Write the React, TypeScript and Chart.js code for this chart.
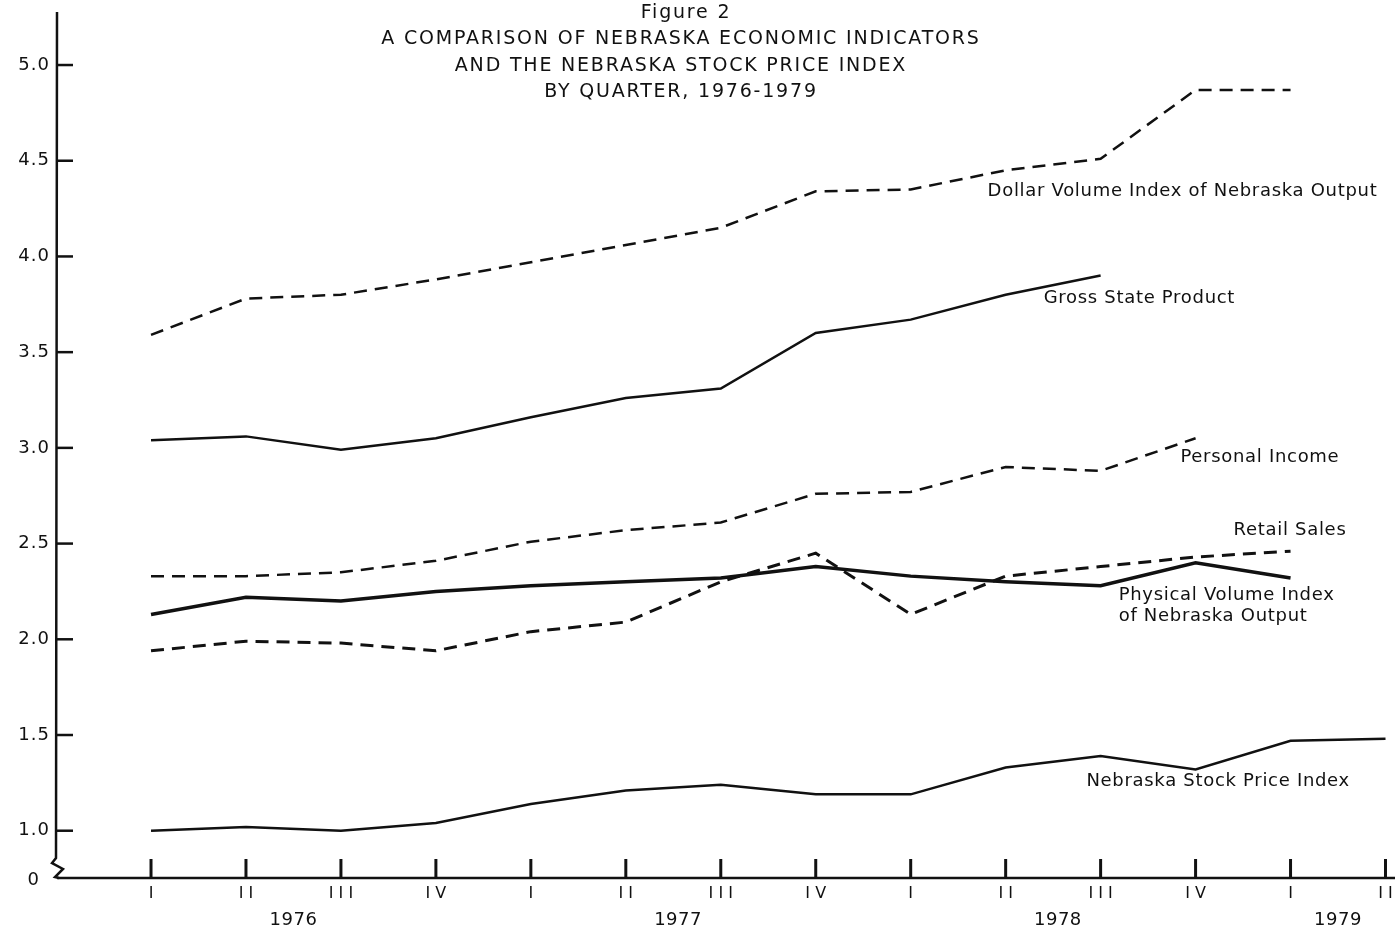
import { useEffect, useRef } from "react";
import { Chart, registerables } from "chart.js";
Chart.register(...registerables);

const quarterLabels = ["I", "II", "III", "IV", "I", "II", "III", "IV", "I", "II", "III", "IV", "I", "II"];
const yearLabels = ["1976", "1977", "1978", "1979"];
const yTickValues = [1.0, 1.5, 2.0, 2.5, 3.0, 3.5, 4.0, 4.5, 5.0];

const dollarVolumeIndex = [3.59, 3.78, 3.80, 3.88, 3.97, 4.06, 4.15, 4.34, 4.35, 4.45, 4.51, 4.87, 4.87, null];
const grossStateProduct = [3.04, 3.06, 2.99, 3.05, 3.16, 3.26, 3.31, 3.60, 3.67, 3.80, 3.90, null, null, null];
const personalIncome = [2.33, 2.33, 2.35, 2.41, 2.51, 2.57, 2.61, 2.76, 2.77, 2.90, 2.88, 3.05, null, null];
const retailSales = [1.94, 1.99, 1.98, 1.94, 2.04, 2.09, 2.30, 2.45, 2.13, 2.33, 2.38, 2.43, 2.46, null];
const physicalVolumeIndex = [2.13, 2.22, 2.20, 2.25, 2.28, 2.30, 2.32, 2.38, 2.33, 2.30, 2.28, 2.40, 2.32, null];
const stockPriceIndex = [1.00, 1.02, 1.00, 1.04, 1.14, 1.21, 1.24, 1.19, 1.19, 1.33, 1.39, 1.32, 1.47, 1.48];

const titleLines = [
  "Figure 2",
  "A COMPARISON OF NEBRASKA ECONOMIC INDICATORS",
  "AND THE NEBRASKA STOCK PRICE INDEX",
  "BY QUARTER, 1976-1979",
];

const seriesLabels = [
  { text: "Dollar Volume Index of Nebraska Output", x: 8.81, y: 4.34 },
  { text: "Gross State Product", x: 9.4, y: 3.78 },
  { text: "Personal Income", x: 10.84, y: 2.95 },
  { text: "Retail Sales", x: 11.4, y: 2.57 },
  { text: "Physical Volume Index", x: 10.19, y: 2.23 },
  { text: "of Nebraska Output", x: 10.19, y: 2.12 },
  { text: "Nebraska Stock Price Index", x: 9.85, y: 1.26 },
];

const FONT = '"DejaVu Sans", "Liberation Sans", Arial, sans-serif';
const INK = "#111";

const toPoints = (arr: (number | null)[]) =>
  arr.map((v, i) => (v == null ? null : { x: i, y: v })).filter((p) => p !== null) as { x: number; y: number }[];

const axesPlugin = {
  id: "oldAxes",
  afterDraw(chart: any) {
    const { ctx, chartArea, scales } = chart;
    const xs = scales.x;
    const ys = scales.y;
    const axisX = chartArea.left;
    const axisY = chartArea.bottom;
    ctx.save();
    ctx.strokeStyle = INK;
    ctx.fillStyle = INK;
    ctx.lineCap = "butt";

    // y axis with break
    ctx.lineWidth = 2.5;
    ctx.beginPath();
    ctx.moveTo(axisX, chartArea.top);
    ctx.lineTo(axisX - 1, axisY - 20);
    ctx.lineTo(axisX - 5, axisY - 15);
    ctx.lineTo(axisX + 6, axisY - 9);
    ctx.lineTo(axisX - 2, axisY - 1);
    ctx.lineTo(axisX + 2, axisY);
    ctx.stroke();

    // x axis
    ctx.beginPath();
    ctx.moveTo(axisX, axisY);
    ctx.lineTo(chartArea.right, axisY);
    ctx.stroke();

    // y ticks and labels
    ctx.font = `18px ${FONT}`;
    ctx.letterSpacing = "1px";
    ctx.textAlign = "right";
    ctx.textBaseline = "middle";
    yTickValues.forEach((v) => {
      const py = ys.getPixelForValue(v);
      ctx.beginPath();
      ctx.moveTo(axisX, py);
      ctx.lineTo(axisX + 16, py);
      ctx.stroke();
      ctx.fillText(v.toFixed(1), 50, py);
    });
    ctx.fillText("0", 40, axisY + 2);

    // x ticks and labels
    ctx.lineWidth = 3;
    ctx.textAlign = "center";
    ctx.font = `16px ${FONT}`;
    ctx.letterSpacing = "0px";
    quarterLabels.forEach((q, i) => {
      const px = xs.getPixelForValue(i);
      ctx.beginPath();
      ctx.moveTo(px, axisY - 19);
      ctx.lineTo(px, axisY);
      ctx.stroke();
      ctx.fillText(q.split("").join(" "), px, axisY + 16);
    });
    ctx.font = `18px ${FONT}`;
    ctx.letterSpacing = "0.5px";
    const yearPos = [1.5, 5.55, 9.55, 12.5];
    yearLabels.forEach((y, i) => {
      ctx.fillText(y, xs.getPixelForValue(yearPos[i]), axisY + 42);
    });

    // title
    ctx.font = `19px ${FONT}`;
    ctx.letterSpacing = "1.8px";
    const titleY = [13, 39, 66, 92];
    titleLines.forEach((t, i) => {
      ctx.fillText(t, i === 0 ? 686 : 681, titleY[i]);
    });

    // series labels
    ctx.textAlign = "left";
    ctx.font = `18px ${FONT}`;
    ctx.letterSpacing = "0.7px";
    seriesLabels.forEach((l) => {
      ctx.fillText(l.text, xs.getPixelForValue(l.x), ys.getPixelForValue(l.y));
    });
    ctx.restore();
  },
};

export default function App() {
  const ref = useRef<HTMLCanvasElement | null>(null);
  useEffect(() => {
    document.body.style.margin = "0";
    if (!ref.current) return;
    const dashed = [13, 8];
    const chart = new Chart(ref.current, {
      type: "line",
      data: {
        datasets: [
          { label: "Dollar Volume Index of Nebraska Output", data: toPoints(dollarVolumeIndex), borderDash: dashed, borderWidth: 2.5 },
          { label: "Gross State Product", data: toPoints(grossStateProduct), borderWidth: 2.5 },
          { label: "Personal Income", data: toPoints(personalIncome), borderDash: dashed, borderWidth: 2.5 },
          { label: "Retail Sales", data: toPoints(retailSales), borderDash: dashed, borderWidth: 3 },
          { label: "Physical Volume Index of Nebraska Output", data: toPoints(physicalVolumeIndex), borderWidth: 3.5 },
          { label: "Nebraska Stock Price Index", data: toPoints(stockPriceIndex), borderWidth: 2.5 },
        ].map((d) => ({ ...d, borderColor: INK, backgroundColor: INK, pointRadius: 0, tension: 0, fill: false })),
      },
      options: {
        animation: false,
        responsive: false,
        maintainAspectRatio: false,
        layout: { padding: { left: 57, right: 5, top: 12, bottom: 57 } },
        plugins: { legend: { display: false }, tooltip: { enabled: false }, title: { display: false } },
        scales: {
          x: { type: "linear", min: -0.99, max: 13.1, display: false },
          y: { type: "linear", min: 0.753, max: 5.277, display: false },
        },
      },
      plugins: [axesPlugin],
    });
    return () => chart.destroy();
  }, []);
  return (
    <div style={{ position: "absolute", left: 0, top: 0, width: 1400, height: 935, background: "#fff" }}>
      <canvas ref={ref} width={1400} height={935} style={{ width: 1400, height: 935 }} />
    </div>
  );
}
